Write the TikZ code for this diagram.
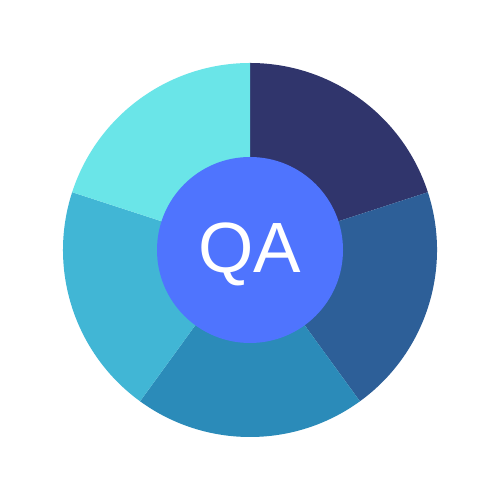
\documentclass[tikz,border=0pt]{standalone}
\usepackage{fontspec}
\setmainfont{Liberation Sans}
\usepackage{xcolor}
\usepackage{tikz}
\definecolor{qaone}{HTML}{30356C}
\definecolor{qatwo}{HTML}{2D5F98}
\definecolor{qathree}{HTML}{2B8BB9}
\definecolor{qafour}{HTML}{41B6D5}
\definecolor{qafive}{HTML}{6AE5E8}
\definecolor{qacore}{HTML}{4F74FE}
\begin{document}
\begin{tikzpicture}
		\useasboundingbox[fill=white] (0,0) rectangle (10,10);
		\foreach \a/\c in {90/qaone,18/qatwo,-54/qathree,-126/qafour,-198/qafive}
		{
		\fill[\c] (5,5) -- ++(\a:3.74) arc[start angle=\a,end angle=\a-72,radius=3.74] -- cycle;
		}
		\node[circle,fill=qacore,minimum size=3.72cm,inner sep=0pt] (qa) at (5,5) {};
		\node[anchor=base,inner sep=0pt,text=white,font=\fontsize{40.5}{40.5}\selectfont] (qalabel) at ([yshift=-0.46cm]qa.center) {QA};
	\end{tikzpicture}
\end{document}
